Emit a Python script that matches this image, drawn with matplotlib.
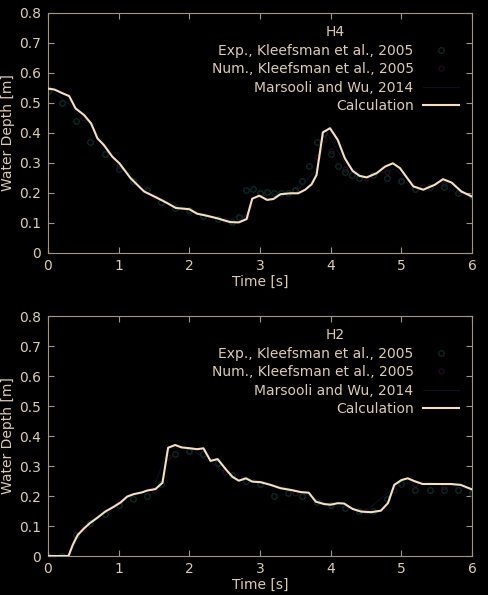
"""Water depth at gauges H4 and H2: calculation vs. reference data (dam break)."""

import matplotlib as mpl
import matplotlib.pyplot as plt

BG = "#000000"
FG = "#dccbb2"
SPINE = "#a39582"
CALC_COLOR = "#f6dfc0"
EXP_COLOR = "#0a2824"
NUM_COLOR = "#220a1c"
MARS_COLOR = "#0b0f20"

# ---- H4 -------------------------------------------------------------------
h4_calc_t = [0.00, 0.09, 0.21, 0.30, 0.39, 0.51, 0.61, 0.70, 0.79, 0.91,
             1.01, 1.17, 1.36, 1.55, 1.69, 1.81, 2.00, 2.11, 2.25, 2.39,
             2.49, 2.58, 2.70, 2.81, 2.89, 2.99, 3.10, 3.19, 3.29, 3.43,
             3.54, 3.64, 3.73, 3.80, 3.89, 3.99, 4.10, 4.20, 4.31, 4.41,
             4.51, 4.65, 4.77, 4.88, 4.98, 5.17, 5.31, 5.47, 5.59, 5.71,
             5.85, 6.00]
h4_calc_d = [0.548, 0.545, 0.532, 0.523, 0.482, 0.460, 0.432, 0.382, 0.360, 0.321,
             0.299, 0.249, 0.205, 0.183, 0.166, 0.150, 0.146, 0.131, 0.124, 0.116,
             0.109, 0.103, 0.102, 0.113, 0.181, 0.191, 0.177, 0.180, 0.196, 0.199,
             0.199, 0.211, 0.229, 0.260, 0.402, 0.416, 0.377, 0.316, 0.274, 0.257,
             0.252, 0.266, 0.288, 0.299, 0.283, 0.222, 0.211, 0.227, 0.246, 0.235,
             0.205, 0.188]

h4_exp_t = [0.0, 0.2, 0.4, 0.6, 0.8, 1.0, 1.2, 1.4, 1.6, 1.8, 2.0, 2.2, 2.4,
            2.6, 2.7, 2.8, 2.9, 3.0, 3.1, 3.2, 3.3, 3.4, 3.5, 3.6, 3.7, 3.8,
            3.9, 4.0, 4.1, 4.2, 4.3, 4.4, 4.6, 4.8, 5.0, 5.2, 5.4, 5.6, 5.8, 6.0]
h4_exp_d = [0.54, 0.50, 0.44, 0.37, 0.33, 0.28, 0.24, 0.21, 0.17, 0.15, 0.145, 0.125, 0.115,
            0.105, 0.12, 0.21, 0.215, 0.20, 0.205, 0.20, 0.20, 0.20, 0.21, 0.24, 0.29, 0.37,
            0.40, 0.33, 0.29, 0.27, 0.26, 0.25, 0.26, 0.25, 0.24, 0.215, 0.22, 0.22, 0.20, 0.19]

h4_num_t = [0.0, 0.5, 1.0, 1.5, 2.0, 2.5, 2.8, 3.0, 3.5, 3.8, 3.9, 4.0, 4.2,
            4.5, 4.8, 5.0, 5.3, 5.6, 6.0]
h4_num_d = [0.55, 0.45, 0.29, 0.19, 0.14, 0.11, 0.12, 0.20, 0.21, 0.32, 0.38, 0.34, 0.28,
            0.25, 0.27, 0.24, 0.22, 0.23, 0.19]

h4_mars_t = [0.0, 0.5, 1.0, 1.5, 2.0, 2.5, 2.8, 3.0, 3.5, 3.8, 3.95, 4.2, 4.5,
             4.9, 5.3, 5.6, 6.0]
h4_mars_d = [0.55, 0.46, 0.30, 0.19, 0.145, 0.11, 0.13, 0.19, 0.20, 0.28, 0.40, 0.30, 0.25,
             0.28, 0.21, 0.24, 0.19]

# ---- H2 -------------------------------------------------------------------
h2_calc_t = [0.00, 0.29, 0.35, 0.42, 0.51, 0.59, 0.69, 0.81, 0.93, 1.03,
             1.12, 1.21, 1.33, 1.40, 1.52, 1.62, 1.70, 1.80, 1.89, 2.01,
             2.11, 2.20, 2.30, 2.40, 2.52, 2.61, 2.70, 2.80, 2.89, 3.01,
             3.15, 3.29, 3.44, 3.58, 3.69, 3.79, 3.91, 4.00, 4.10, 4.19,
             4.31, 4.43, 4.57, 4.71, 4.81, 4.90, 5.00, 5.09, 5.18, 5.30,
             5.46, 5.70, 5.84, 6.00]
h2_calc_d = [0.000, 0.000, 0.037, 0.070, 0.092, 0.109, 0.126, 0.148, 0.164, 0.179,
             0.198, 0.206, 0.212, 0.218, 0.223, 0.244, 0.361, 0.370, 0.362, 0.359,
             0.356, 0.359, 0.317, 0.323, 0.288, 0.264, 0.251, 0.259, 0.248, 0.246,
             0.237, 0.226, 0.220, 0.213, 0.211, 0.181, 0.173, 0.171, 0.176, 0.175,
             0.157, 0.148, 0.146, 0.151, 0.176, 0.237, 0.253, 0.259, 0.250, 0.240,
             0.240, 0.240, 0.237, 0.222]

h2_exp_t = [0.0, 0.2, 0.4, 0.6, 0.8, 1.0, 1.2, 1.4, 1.6, 1.8, 2.0, 2.2, 2.4,
            2.6, 2.8, 3.0, 3.2, 3.4, 3.6, 3.8, 4.0, 4.2, 4.4, 4.6, 4.8, 5.0,
            5.2, 5.4, 5.6, 5.8, 6.0]
h2_exp_d = [0.0, 0.0, 0.07, 0.11, 0.14, 0.17, 0.19, 0.20, 0.24, 0.34, 0.35, 0.34, 0.31,
            0.27, 0.25, 0.24, 0.20, 0.21, 0.20, 0.18, 0.17, 0.16, 0.15, 0.15, 0.19, 0.24,
            0.22, 0.22, 0.22, 0.22, 0.21]

h2_num_t = [0.0, 0.3, 0.5, 1.0, 1.5, 1.7, 2.0, 2.5, 3.0, 3.5, 4.0, 4.5, 4.9, 5.2, 5.6, 6.0]
h2_num_d = [0.0, 0.0, 0.09, 0.18, 0.22, 0.33, 0.35, 0.28, 0.24, 0.21, 0.17, 0.15, 0.22,
            0.24, 0.23, 0.22]

h2_mars_t = [0.0, 0.3, 0.5, 1.0, 1.5, 1.7, 2.0, 2.5, 3.0, 3.5, 4.0, 4.5, 4.9, 5.2, 5.6, 6.0]
h2_mars_d = [0.0, 0.0, 0.10, 0.18, 0.23, 0.36, 0.36, 0.28, 0.25, 0.22, 0.17, 0.15, 0.23,
             0.25, 0.24, 0.22]

LABELS = ["Exp., Kleefsman et al., 2005", "Num., Kleefsman et al., 2005",
          "Marsooli and Wu, 2014", "Calculation"]


def _style() -> None:
    mpl.rcParams.update(
        {
            "font.family": "DejaVu Sans",
            "font.size": 10,
            "text.color": FG,
            "axes.labelcolor": FG,
            "axes.edgecolor": SPINE,
            "axes.facecolor": BG,
            "figure.facecolor": BG,
            "axes.linewidth": 0.8,
            "xtick.color": SPINE,
            "ytick.color": SPINE,
            "xtick.labelcolor": FG,
            "ytick.labelcolor": FG,
            "xtick.direction": "in",
            "ytick.direction": "in",
            "xtick.top": True,
            "ytick.right": True,
            "xtick.major.size": 4,
            "ytick.major.size": 4,
            "xtick.major.pad": 4,
            "ytick.major.pad": 5,
        }
    )


def _panel(ax, title, calc, exp, num, mars) -> None:
    ax.plot(*mars, color=MARS_COLOR, lw=0.8, label=LABELS[2], zorder=1)
    ax.plot(*num, color=NUM_COLOR, lw=0, marker="o", ms=3.5, mfc="none",
            mec=NUM_COLOR, label=LABELS[1], zorder=1)
    ax.plot(*exp, color=EXP_COLOR, lw=0, marker="o", ms=4, mfc="none",
            mec=EXP_COLOR, mew=1.0, label=LABELS[0], zorder=2)
    ax.plot(*calc, color=CALC_COLOR, lw=1.5, label=LABELS[3], zorder=3)

    ax.set_xlim(0, 6)
    ax.set_ylim(0, 0.8)
    ax.set_xticks(range(7))
    ax.set_yticks([i / 10 for i in range(9)])
    ax.set_yticklabels(["0"] + [f"{i / 10:.1f}" for i in range(1, 9)])
    ax.set_xlabel("Time [s]", labelpad=2)
    ax.set_ylabel("Water Depth [m]", labelpad=3)

    handles, labels = ax.get_legend_handles_labels()
    order = [LABELS.index(l) for l in labels]
    pairs = sorted(zip(order, handles, labels))
    leg = ax.legend(
        [h for _, h, _ in pairs],
        [l for _, _, l in pairs],
        title=title,
        loc="upper right",
        bbox_to_anchor=(0.99, 0.985),
        markerfirst=False,
        frameon=False,
        handlelength=2.6,
        handletextpad=0.7,
        labelspacing=0.33,
        borderaxespad=0.2,
        fontsize=10,
        title_fontsize=10,
    )
    leg.get_title().set_color(FG)
    for t in leg.get_texts():
        t.set_color(FG)


def main() -> None:
    _style()
    fig = plt.figure(figsize=(4.88, 5.95), dpi=100)
    ax1 = fig.add_axes([48 / 488, 1 - 253 / 595, 424 / 488, 240 / 595])
    ax2 = fig.add_axes([48 / 488, 1 - 556 / 595, 424 / 488, 240 / 595])

    _panel(ax1, "H4", (h4_calc_t, h4_calc_d), (h4_exp_t, h4_exp_d),
           (h4_num_t, h4_num_d), (h4_mars_t, h4_mars_d))
    _panel(ax2, "H2", (h2_calc_t, h2_calc_d), (h2_exp_t, h2_exp_d),
           (h2_num_t, h2_num_d), (h2_mars_t, h2_mars_d))

    fig.savefig("out.png", dpi=100, facecolor=BG)


if __name__ == "__main__":
    main()
